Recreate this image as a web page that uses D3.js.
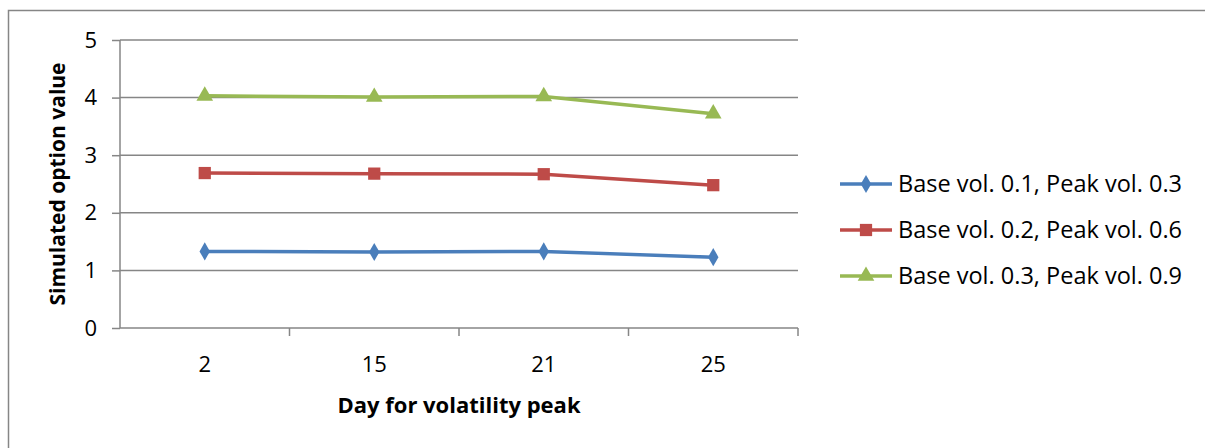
<!DOCTYPE html>
<html>
<head>
<meta charset="utf-8">
<script src="https://cdn.jsdelivr.net/npm/d3@7"></script>
<style>
  html, body { margin: 0; padding: 0; background: #fff; }
  svg text { font-family: "Open Sans", Lato, sans-serif; fill: #000; }
</style>
</head>
<body>
<div id="chart"></div>
<script>
(function(){
    // data
    var days = ['2', '15', '21', '25'];
    var seriesNames = [
        'Base vol. 0.1, Peak vol. 0.3',
        'Base vol. 0.2, Peak vol. 0.6',
        'Base vol. 0.3, Peak vol. 0.9'
    ];
    var lowVol  = [1.33, 1.32, 1.33, 1.23];
    var midVol  = [2.69, 2.68, 2.67, 2.48];
    var highVol = [4.03, 4.01, 4.02, 3.72];
    var yTicks  = [0, 1, 2, 3, 4, 5];

    // layout
    var WIDTH   = 1205,
        HEIGHT  = 448,
        PLOT_L  = 120,
        PLOT_R  = 798,
        PLOT_T  = 40,
        PLOT_B  = 328,
        FONT    = '22px',   // tick labels
        LEG_FONT = '23.5px',
        TITLE_FONT = '22px';

    var COLORS  = ['#4A7EBB', '#BE4B48', '#98B954'];
    var SYMBOLS = [d3.symbolDiamond, d3.symbolSquare, d3.symbolTriangle];
    var SIZES   = [95, 150, 120];

    var series = [lowVol, midVol, highVol].map(function(v, i){
        return { name: seriesNames[i], values: v, color: COLORS[i], symbol: SYMBOLS[i], size: SIZES[i] };
    });

    var svg = d3.select('#chart').append('svg')
        .attr('width', WIDTH)
        .attr('height', HEIGHT);

    // outer chart border
    svg.append('rect')
        .attr('x', 8.5).attr('y', 10.5)
        .attr('width', 1210).attr('height', 450)
        .attr('fill', 'none')
        .attr('stroke', '#868686')
        .attr('stroke-width', 1.5);

    var x = d3.scaleBand().domain(days).range([PLOT_L, PLOT_R]);
    var y = d3.scaleLinear().domain([0, 5]).range([PLOT_B, PLOT_T]);

    // gridlines
    svg.append('g')
        .selectAll('line')
        .data(yTicks.slice(1))
        .enter().append('line')
        .attr('x1', PLOT_L).attr('x2', PLOT_R)
        .attr('y1', function(d){ return y(d); })
        .attr('y2', function(d){ return y(d); })
        .attr('stroke', '#868686')
        .attr('stroke-width', 1.5);

    // y axis
    var yAxis = svg.append('g')
        .attr('transform', 'translate(' + PLOT_L + ',0)')
        .call(d3.axisLeft(y).tickValues(yTicks).tickSize(8).tickPadding(15).tickFormat(d3.format('d')));
    yAxis.select('.domain').attr('stroke', '#868686').attr('stroke-width', 1.5).attr('d', 'M0,' + PLOT_T + 'V' + PLOT_B);
    yAxis.selectAll('.tick line').attr('stroke', '#868686').attr('stroke-width', 1.5);
    yAxis.selectAll('.tick text').style('font-size', FONT).attr('fill', '#000');

    // x axis: ticks on category boundaries
    var xAxis = svg.append('g')
        .attr('transform', 'translate(0,' + PLOT_B + ')')
        .call(d3.axisBottom(x).tickSize(0).tickPadding(28));
    xAxis.select('.domain').attr('stroke', '#868686').attr('stroke-width', 1.5).attr('d', 'M' + PLOT_L + ',0H' + PLOT_R);
    xAxis.selectAll('.tick text').style('font-size', FONT).attr('fill', '#000');
    xAxis.selectAll('line.bound')
        .data(days.map(function(d){ return x(d) + x.bandwidth(); }))
        .enter().append('line')
        .attr('class', 'bound')
        .attr('x1', function(d){ return d; }).attr('x2', function(d){ return d; })
        .attr('y1', 0).attr('y2', 8)
        .attr('stroke', '#868686').attr('stroke-width', 1.5);

    // axis titles
    svg.append('text')
        .attr('x', (PLOT_L + PLOT_R) / 2).attr('y', 413)
        .attr('text-anchor', 'middle')
        .style('font-size', TITLE_FONT).style('font-weight', 'bold')
        .text('Day for volatility peak');
    svg.append('text')
        .attr('transform', 'translate(65,' + ((PLOT_T + PLOT_B) / 2) + ') rotate(-90)')
        .attr('text-anchor', 'middle')
        .style('font-size', '21px').style('font-weight', 'bold')
        .text('Simulated option value');

    // lines and markers
    var line = d3.line()
        .x(function(d, i){ return x(days[i]) + x.bandwidth() / 2; })
        .y(function(d){ return y(d); });

    var g = svg.selectAll('g.series')
        .data(series)
        .enter().append('g')
        .attr('class', 'series');

    g.append('path')
        .attr('d', function(s){ return line(s.values); })
        .attr('fill', 'none')
        .attr('stroke', function(s){ return s.color; })
        .attr('stroke-width', 3.5);

    g.each(function(s){
        d3.select(this).selectAll('path.marker')
            .data(s.values)
            .enter().append('path')
            .attr('class', 'marker')
            .attr('d', d3.symbol().type(s.symbol).size(s.size))
            .attr('transform', function(d, i){
                return 'translate(' + (x(days[i]) + x.bandwidth() / 2) + ',' + y(d) + ')';
            })
            .attr('fill', s.color);
    });

    // legend
    var legend = svg.append('g')
        .selectAll('g')
        .data(series)
        .enter().append('g')
        .attr('transform', function(s, i){ return 'translate(840,' + (184 + i * 46) + ')'; });

    legend.append('line')
        .attr('x1', 0).attr('x2', 52)
        .attr('stroke', function(s){ return s.color; })
        .attr('stroke-width', 3.5);
    legend.append('path')
        .attr('d', function(s){ return d3.symbol().type(s.symbol).size(s.size)(); })
        .attr('transform', 'translate(26,0)')
        .attr('fill', function(s){ return s.color; });
    legend.append('text')
        .attr('x', 58).attr('y', 0)
        .attr('dy', '0.35em')
        .style('font-size', LEG_FONT)
        .text(function(s){ return s.name; });
})();
</script>
</body>
</html>
